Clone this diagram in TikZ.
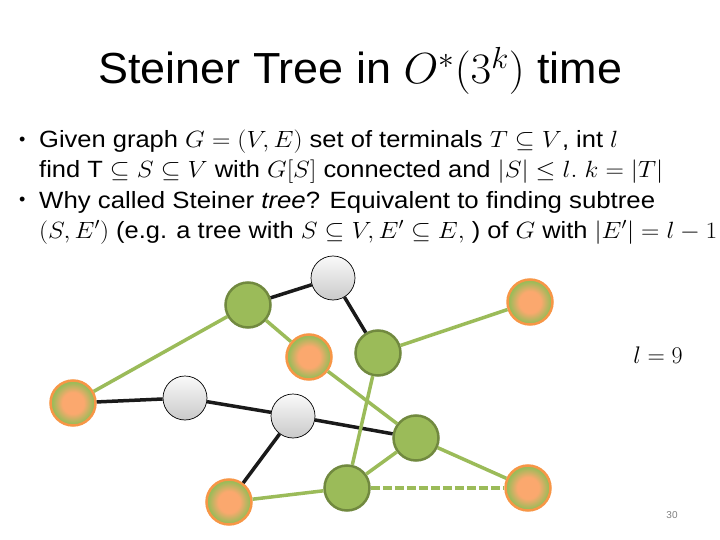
\RequirePackage{fix-cm}
\documentclass[tikz,border=0pt]{standalone}
\usepackage{fontspec}
\setmainfont{Liberation Sans}
\usepackage{graphicx}
\definecolor{grn}{HTML}{9BBB59}
\definecolor{grnd}{HTML}{71893F}
\definecolor{orn}{HTML}{F79646}
\definecolor{ornl}{HTML}{FBA86E}
\definecolor{blk}{HTML}{1A1A1A}
\pgfdeclareradialshading{termshade}{\pgfpoint{0bp}{0bp}}{color(0bp)=(ornl); color(12bp)=(ornl); color(23bp)=(grn); color(25bp)=(grn); color(50bp)=(grn)}
\tikzset{
  graynode/.style={circle, minimum size=44pt, inner sep=0pt, draw=black, line width=0.7pt, top color=gray!4, bottom color=gray!42},
  grnnode/.style={circle, minimum size=45pt, inner sep=0pt, fill=grn, draw=grnd, line width=2.5pt},
  termnode/.style={circle, minimum size=45pt, inner sep=0pt, shading=termshade, draw=orn, line width=2.5pt},
  bedge/.style={draw=blk, line width=3.5pt},
  gedge/.style={draw=grn, line width=3.5pt},
  bodyline/.style={anchor=base west, inner sep=0pt, font=\fontsize{23.5}{28}\selectfont},
}
\newcommand{\fitw}[2]{\resizebox{#1}{\height}{#2}}
\begin{document}
\begin{tikzpicture}[x=1pt,y=-1pt]
\useasboundingbox (0,0) rectangle (720,540);
\fill[white] (0,0) rectangle (720,540);
% title
\node[anchor=base west, inner sep=0pt, font=\fontsize{43.5}{50}\selectfont] (title) at (98,84) {\fitw{524pt}{Steiner Tree in $O^*(3^k)$ time}};
% body
\node[bodyline, font=\fontsize{18}{20}\selectfont] (b1) at (19,146) {•};
\node[bodyline] (l1) at (39,148) {\fitw{579pt}{Given graph $G=(V,E)$ set of terminals $T\subseteq V$, int $l$}};
\node[bodyline] (l2) at (39,178) {\fitw{624pt}{find $\mathrm{T}\subseteq S\subseteq V$ with $G[S]$ connected and $|S|\le l.\ k=|T|$}};
\node[bodyline, font=\fontsize{18}{20}\selectfont] (b2) at (19,206) {•};
\node[bodyline] (l3) at (39,208) {\fitw{616pt}{Why called Steiner \textit{tree}? Equivalent to finding subtree}};
\node[bodyline] (l4) at (39,238) {\fitw{678pt}{$(S,E')$ (e.g. a tree with $S\subseteq V,E'\subseteq E,$ ) of $G$ with $|E'|=l-1$}};
% l = 9
\node[inner sep=0pt, font=\fontsize{24}{28}\selectfont] (lval) at (658,355) {$l=9$};
% page number
\node[inner sep=0pt, text=gray, font=\fontsize{10}{12}\selectfont] (pg) at (672,515) {30};
% nodes
\node[graynode] (g1) at (333,278) {};
\node[graynode] (g2) at (185,398) {};
\node[graynode] (g3) at (293,416) {};
\node[grnnode] (G1) at (248,305) {};
\node[grnnode] (G2) at (378,353) {};
\node[grnnode] (G3) at (416,438) {};
\node[grnnode] (G4) at (347,488) {};
\node[termnode] (T1) at (73,403) {};
\node[termnode] (T2) at (309,357) {};
\node[termnode] (T3) at (229,502) {};
\node[termnode] (T4) at (530,302) {};
\node[termnode] (T5) at (528,488) {};
% edges
\draw[bedge] (G1) -- (g1);
\draw[bedge] (g1) -- (G2);
\draw[bedge] (T1) -- (g2);
\draw[bedge] (g2) -- (g3);
\draw[bedge] (g3) -- (G3);
\draw[bedge] (g3) -- (T3);
\draw[gedge] (T1) -- (G1);
\draw[gedge] (G1) -- (T2);
\draw[gedge] (T2) -- (G3);
\draw[gedge] (G2) -- (T4);
\draw[gedge] (G2) -- (G4);
\draw[gedge] (G4) -- (G3);
\draw[gedge] (G3) -- (T5);
\draw[gedge] (T3) -- (G4);
\draw[gedge, dash pattern=on 9pt off 3pt] (G4) -- (T5);
\end{tikzpicture}
\end{document}
